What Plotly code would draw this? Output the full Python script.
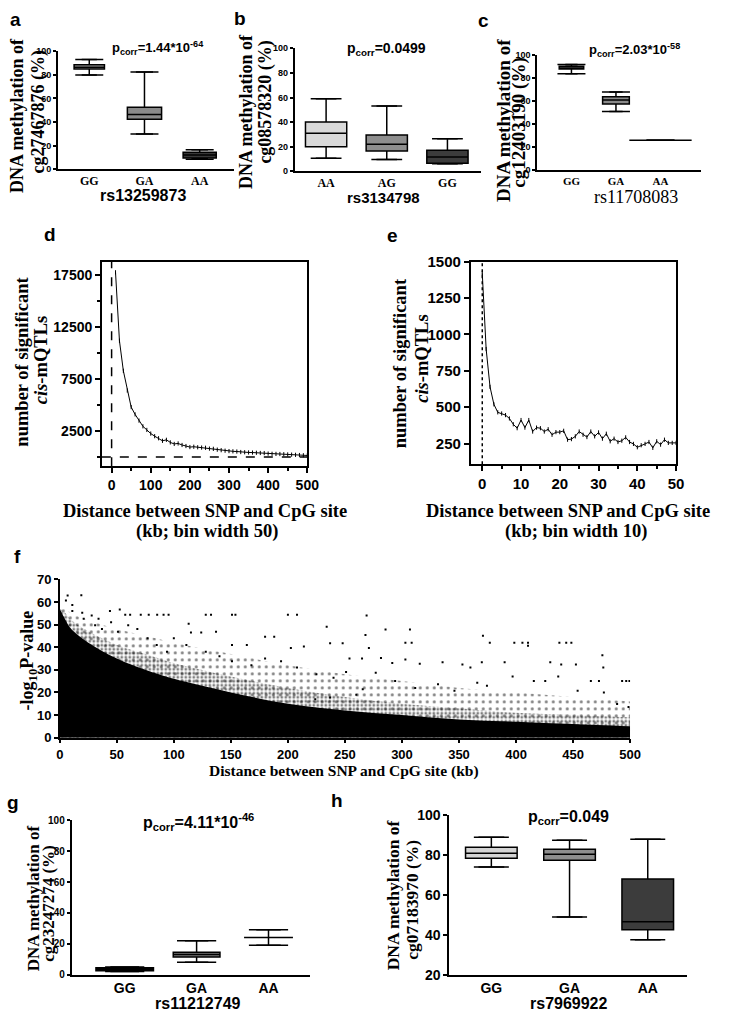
import plotly.graph_objects as go

W, H = 737, 1020
SANS = "Liberation Sans, Arial"
SERIF = "Liberation Serif, Times New Roman"

# ---------------- data ----------------
# a
A_CATS = ["GG", "GA", "AA"]
A_MIN = [80, 30, 8.5]
A_Q1 = [85, 42.5, 9.5]
A_MED = [86.5, 46.5, 12]
A_Q3 = [88.5, 52.5, 14.5]
A_MAX = [93, 82.5, 16.5]

# b
B_CATS = ["AA", "AG", "GG"]
B_MIN = [10.5, 9.5, 6]
B_Q1 = [20, 16.5, 6.5]
B_MED = [31, 22, 11.5]
B_Q3 = [40, 29.5, 17]
B_MAX = [59, 53, 26.5]

# c
C_CATS = ["GG", "GA", "AA"]
C_MIN = [84, 51, 26]
C_Q1 = [88, 57.5, 26]
C_MED = [89, 61, 26]
C_Q3 = [90.5, 64, 26]
C_MAX = [92, 68, 26]

# d  (number of significant cis-mQTLs, bin width 50)
D_X = [10, 20, 30, 40, 50, 60, 70, 80, 90, 100, 110, 120, 130, 140, 150, 160, 170,
       180, 190, 200, 210, 220, 230, 240, 250, 260, 270, 280, 290, 300, 310, 320,
       330, 340, 350, 360, 370, 380, 390, 400, 410, 420, 430, 440, 450, 460, 470,
       480, 490, 500]
D_Y = [17800, 11200, 8300, 6400, 4800, 4100, 3500, 2950, 2600, 2250, 2000, 1800,
       1550, 1650, 1400, 1250, 1300, 1150, 1050, 950, 980, 930, 900, 880, 800, 780,
       700, 650, 600, 560, 540, 520, 470, 450, 430, 420, 400, 380, 370, 320, 300,
       290, 280, 260, 240, 220, 200, 180, 160, 140]

# e  (bin width 10)
E_X = [0, 1, 2, 3, 4, 5, 6, 7, 8, 9, 10, 11, 12, 13, 14, 15, 16, 17, 18, 19, 20,
       21, 22, 23, 24, 25, 26, 27, 28, 29, 30, 31, 32, 33, 34, 35, 36, 37, 38, 39,
       40, 41, 42, 43, 44, 45, 46, 47, 48, 49, 50]
E_Y = [1420, 900, 640, 520, 465, 457, 446, 423, 383, 356, 412, 360, 412, 333, 360,
       356, 333, 349, 311, 329, 329, 338, 277, 281, 300, 333, 311, 295, 333, 300,
       327, 284, 318, 266, 284, 261, 270, 293, 261, 248, 225, 239, 248, 261, 221,
       266, 243, 277, 255, 255, 255]

# f  (dense cloud: envelopes of the point density + sparse outlying points)
F_X = [0, 5, 10, 25, 50, 75, 100, 150, 200, 250, 300, 350, 400, 450, 500]
F_CORE = [57, 52, 48, 42, 35, 30, 26, 20, 15, 12, 10, 8, 7, 6, 5]
F_DENSE = [57, 55, 52, 47, 41, 37, 33, 27, 22, 18, 15, 13, 11, 10, 9]
F_HALO = [58, 57, 55, 52, 48, 45, 42, 37, 32, 28, 25, 22, 20, 18, 16]
F_PX = [6.9, 18.9, 5.4, 11, 11, 19.7, 21, 28, 34, 44, 52.6, 57.4, 61.7, 71, 78,
        85.4, 91, 95.4, 113, 128, 132.6, 151, 154, 200, 208, 115, 124, 137, 151,
        164, 180, 188, 202.6, 214, 234, 237, 248, 254, 225, 240, 251, 208, 194,
        180, 168, 151, 140, 128, 111, 100, 94, 85, 77, 68, 60, 51, 45, 37, 31,
        224, 237, 260, 265, 269, 268, 285.6, 307, 303, 308.5, 281.6, 291.5, 271,
        303, 315.6, 335.6, 353, 360, 370, 390, 371, 377, 398.5, 405.6, 410.5,
        410.5, 430, 438, 444, 448.5, 439.6, 452.5, 475.7, 476.5, 493, 496.6,
        499.4, 465.6, 472.7, 437, 425.6, 415.6, 397, 374.5, 366, 346, 331.6,
        311.6, 294, 277, 265.6, 454, 477, 488.6, 498.6]
F_PY = [62.8, 63, 60.6, 58.7, 56, 55.2, 52.6, 54, 52.6, 56, 56.7, 54.3, 54.3,
        54.3, 54.3, 54.3, 54.3, 54.3, 50.4, 54.3, 54.3, 54.3, 54.3, 54.3, 54.3,
        46.5, 46.5, 46.8, 41, 41, 44.6, 44.6, 39.6, 40.3, 49, 41.7, 41.7, 35, 28,
        26.5, 29, 31, 33.8, 35, 32, 33.8, 36, 38, 41, 44, 38, 41, 44, 48, 49.7,
        46.8, 51, 48, 49.7, 17, 17.8, 19, 35, 54, 45.4, 47.8, 47.8, 42, 42, 35.2,
        33, 39.6, 34.5, 32.7, 33.3, 32.3, 31, 33.3, 33.3, 45, 42, 42, 42, 42,
        40.6, 33.3, 42, 42, 42, 32.3, 32.3, 36.4, 31, 25, 25, 25, 25, 25, 27, 25,
        25, 27, 22.9, 24.3, 20.7, 23.6, 22, 25, 28.7, 21.4, 20.7, 20, 14.9, 13.5]

# g
G_CATS = ["GG", "GA", "AA"]
G_MIN = [2, 8, 19]
G_Q1 = [2.5, 11.5, 24]
G_MED = [3.5, 13, 24]
G_Q3 = [4.5, 14.5, 24]
G_MAX = [5, 22, 29]

# h
H_CATS = ["GG", "GA", "AA"]
H_MIN = [74, 49, 37.5]
H_Q1 = [78.5, 77.5, 42.5]
H_MED = [81, 80.5, 46.5]
H_Q3 = [84, 83, 68]
H_MAX = [89, 87.5, 88]


def X(p):
    return p / W


def Y(p):
    return 1 - p / H


fig = go.Figure()


def add_boxes(n, mins, q1, q3, med, maxs, colors, widths, cap):
    xa, ya = f"x{n}", f"y{n}"
    for i in range(len(mins)):
        fig.add_trace(go.Box(
            x=[i], q1=[q1[i]], median=[med[i]], q3=[q3[i]],
            lowerfence=[mins[i]], upperfence=[maxs[i]],
            fillcolor=colors[i], line=dict(color="black", width=1.5),
            width=widths[i], xaxis=xa, yaxis=ya, hoverinfo="skip",
        ))
    xs, ys = [], []
    for i in range(len(mins)):
        xs += [i, i]
        ys += [mins[i], maxs[i]]
    fig.add_trace(go.Scatter(
        x=xs, y=ys, mode="markers", xaxis=xa, yaxis=ya, hoverinfo="skip",
        marker=dict(symbol="line-ew", size=cap, line=dict(color="black", width=1.5)),
    ))


add_boxes(1, A_MIN, A_Q1, A_Q3, A_MED, A_MAX, ["#a3a3a3", "#8a8a8a", "#383838"], [0.55, 0.62, 0.6], 20)
add_boxes(2, B_MIN, B_Q1, B_Q3, B_MED, B_MAX, ["#d9d9d9", "#8e8e8e", "#3c3c3c"], [0.68, 0.68, 0.68], 22)
add_boxes(3, C_MIN, C_Q1, C_Q3, C_MED, C_MAX, ["#9a9a9a", "#8a8a8a", "#383838"], [0.55, 0.6, 1.4], 20)
add_boxes(7, G_MIN, G_Q1, G_Q3, G_MED, G_MAX, ["#1e1e1e", "#7a7a7a", "#444444"], [0.8, 0.65, 0.68], 28)
add_boxes(8, H_MIN, H_Q1, H_Q3, H_MED, H_MAX, ["#d4d4d4", "#8e8e8e", "#3c3c3c"], [0.66, 0.66, 0.66], 25)

# d
fig.add_trace(go.Scatter(x=D_X, y=D_Y, mode="lines+markers", xaxis="x4", yaxis="y4",
                         line=dict(color="black", width=1),
                         marker=dict(symbol="line-ns", size=3, line=dict(color="black", width=1))))
# e
fig.add_trace(go.Scatter(x=E_X, y=E_Y, mode="lines+markers", xaxis="x5", yaxis="y5",
                         line=dict(color="black", width=1),
                         marker=dict(symbol="line-ns", size=3, line=dict(color="black", width=1))))

# f
fig.add_trace(go.Scatter(x=F_X, y=F_HALO, mode="lines", xaxis="x6", yaxis="y6", fill="tozeroy",
                         line=dict(width=0, shape="spline"), fillcolor="rgba(0,0,0,0)",
                         fillpattern=dict(shape=".", fgcolor="black", bgcolor="rgba(0,0,0,0)",
                                          size=7, solidity=0.15)))
fig.add_trace(go.Scatter(x=F_X, y=F_DENSE, mode="lines", xaxis="x6", yaxis="y6", fill="tozeroy",
                         line=dict(width=0, shape="spline"), fillcolor="rgba(0,0,0,0)",
                         fillpattern=dict(shape=".", fgcolor="black", bgcolor="rgba(0,0,0,0)",
                                          size=4, solidity=0.4)))
fig.add_trace(go.Scatter(x=F_X, y=F_CORE, mode="lines", xaxis="x6", yaxis="y6", fill="tozeroy",
                         line=dict(width=0, shape="spline"), fillcolor="black"))
fig.add_trace(go.Scatter(x=F_PX, y=F_PY, mode="markers", xaxis="x6", yaxis="y6",
                         marker=dict(symbol="square", size=2, color="black")))

# reference lines in d and e
fig.add_shape(type="line", xref="x4", yref="y4 domain", x0=0, x1=0, y0=0, y1=1,
              line=dict(color="black", width=1.5, dash="dash"))
fig.add_shape(type="line", xref="x4 domain", yref="y4", x0=0, x1=1, y0=0, y1=0,
              line=dict(color="black", width=1.5, dash="dash"))
fig.add_shape(type="line", xref="x5", yref="y5 domain", x0=0, x1=0, y0=0, y1=1,
              line=dict(color="black", width=1.5, dash="dot"))

base = dict(showline=True, linecolor="black", linewidth=1.5, showgrid=False, zeroline=False,
            ticks="outside", tickcolor="black", tickwidth=1.5, fixedrange=True)


def font(fam, size):
    return dict(family=fam, size=size, color="black", weight="bold")


def box_axes(n, x0, x1, y0, y1, xr, yr, cats, catfont, yvals, yfont, tl=4):
    sx = "" if n == 1 else str(n)
    fig.layout[f"xaxis{sx}"] = dict(base, domain=[X(x0), X(x1)], range=xr, anchor=f"y{n}",
                                   tickvals=[0, 1, 2], ticktext=cats, ticks="", ticklen=2,
                                   tickfont=catfont)
    fig.layout[f"yaxis{sx}"] = dict(base, domain=[Y(y1), Y(y0)], range=yr, anchor=f"x{n}",
                                   tickvals=yvals, ticklen=tl, tickfont=yfont)


pct = [0, 20, 40, 60, 80, 100]
box_axes(1, 55, 235, 43, 163, [-0.57, 2.62], [0, 100], A_CATS, font(SERIF, 12), pct, font(SANS, 9), 3)
box_axes(2, 297, 488, 40, 165, [-0.52, 2.56], [0, 100], B_CATS, font(SERIF, 12), pct, font(SANS, 9), 3)
box_axes(3, 545, 712, 47, 164, [-0.77, 2.9], [0, 100], C_CATS, font(SERIF, 11), pct, font(SANS, 9), 3)
box_axes(7, 69, 313, 825, 982, [-0.74, 2.58], [0, 100], G_CATS, font(SANS, 14), pct, font(SANS, 10), 3)
box_axes(8, 455, 698, 820, 982, [-0.54, 2.5], [20, 100], H_CATS, font(SANS, 14), [20, 40, 60, 80, 100],
         font(SANS, 14), 4)

minor_style = dict(ticklen=3, ticks="outside", tickcolor="black", tickwidth=1.5)
fig.layout["xaxis4"] = dict(base, domain=[X(100), X(310)], range=[-25, 500], anchor="y4",
                            mirror=True, tickvals=[0, 100, 200, 300, 400, 500], ticklen=5,
                            tickfont=font(SANS, 14), minor=dict(minor_style, dtick=50, tick0=0))
fig.layout["yaxis4"] = dict(base, domain=[Y(465), Y(257)], range=[-900, 18820], anchor="x4",
                            mirror=True, tickvals=[2500, 7500, 12500, 17500], tickformat="d",
                            ticklen=5, tickfont=font(SANS, 14),
                            minor=dict(minor_style, dtick=2500, tick0=0))
fig.layout["xaxis5"] = dict(base, domain=[X(477), X(687)], range=[-3, 50], anchor="y5",
                            mirror=True, tickvals=[0, 10, 20, 30, 40, 50], ticklen=5,
                            tickfont=font(SANS, 15), minor=dict(minor_style, dtick=5, tick0=0))
fig.layout["yaxis5"] = dict(base, domain=[Y(463), Y(257)], range=[108, 1500], anchor="x5",
                            mirror=True, tickvals=[250, 500, 750, 1000, 1250, 1500], ticklen=5,
                            tickformat="d", tickfont=font(SANS, 15))
fig.layout["xaxis6"] = dict(base, domain=[X(57), X(640)], range=[0, 500], anchor="y6",
                            tickvals=[0, 50, 100, 150, 200, 250, 300, 350, 400, 450, 500],
                            ticklen=4, tickfont=font(SANS, 13))
fig.layout["yaxis6"] = dict(base, domain=[Y(741), Y(580)], range=[0, 70], anchor="x6",
                            tickvals=[0, 10, 20, 30, 40, 50, 60, 70], ticklen=4,
                            tickfont=font(SANS, 13))


def ann(text, x, y, size, family=SERIF, angle=0, bold=True):
    fig.add_annotation(text=f"<b>{text}</b>" if bold else text, x=X(x), y=Y(y),
                       xref="paper", yref="paper", showarrow=False, textangle=angle,
                       xanchor="center", yanchor="middle",
                       font=dict(family=family, size=size, color="black"))


# panel letters
for lab, lx, ly in [("a", 12, 11), ("b", 241, 10), ("c", 490, 12), ("d", 47, 229), ("e", 397, 230),
                    ("f", 14, 557), ("g", 9, 807), ("h", 340, 805)]:
    ann(lab, lx, ly, 19, SANS)

# p-values
ann("p<sub>corr</sub>=1.44*10<sup>-64</sup>", 157, 40, 13, SANS)
ann("p<sub>corr</sub>=0.0499", 391, 41, 14, SANS)
ann("p<sub>corr</sub>=2.03*10<sup>-58</sup>", 645, 42, 13, SANS)
ann("p<sub>corr</sub>=4.11*10<sup>-46</sup>", 199, 827, 16, SANS)
ann("p<sub>corr</sub>=0.049", 577, 822, 16, SANS)

# y titles of box plots (two lines each)
ann("DNA methylation of", 14, 108, 18, angle=-90)
ann("cg27467876 (%)", 35, 105, 18, angle=-90)
ann("DNA methylation of", 248, 104, 18, angle=-90)
ann("cg08578320 (%)", 267, 95, 18, angle=-90)
ann("DNA methylation of", 510, 113, 19, angle=-90)
ann("cg12403190 (%)", 527, 116, 19, angle=-90)
ann("DNA methylation of", 31, 904, 17, angle=-90)
ann("cg23247274 (%)", 46, 910, 17, angle=-90)
ann("DNA methylation of", 398, 901, 17.5, angle=-90)
ann("cg07183970 (%)", 417, 906, 17.5, angle=-90)

# x titles of box plots
ann("rs13259873", 142, 190, 16, SANS)
ann("rs3134798", 388, 192, 15, SANS)
ann("rs11708083", 646, 191, 18, SERIF, bold=False)
ann("rs11212749", 198, 1011, 16, SANS)
ann("rs7969922", 578, 1011, 16, SANS)

# d / e titles
ann("number of significant", 18, 359, 18.5, angle=-90)
ann("<i>cis</i>-mQTLs", 38, 357, 18.5, angle=-90)
ann("number of significant", 405, 360, 18.5, angle=-90)
ann("<i>cis</i>-mQTLs", 427, 356, 18.5, angle=-90)
ann("Distance between SNP and CpG site", 205, 510, 18.5)
ann("(kb; bin width 50)", 207, 531, 18.5)
ann("Distance between SNP and CpG site", 577, 510, 18.5)
ann("(kb; bin width 10)", 585, 531, 18.5)

# f titles
ann("-log<sub>10</sub>P-value", 26, 662, 18, angle=-90)
ann("Distance between SNP and CpG site (kb)", 348, 775, 15.5)

fig.update_layout(width=W, height=H, margin=dict(l=0, r=0, t=0, b=0),
                  paper_bgcolor="white", plot_bgcolor="white", showlegend=False,
                  boxmode="overlay")

# the page body has a default 8px margin; remove it so the figure fills the window
fig.write_html("out.html", config={"displayModeBar": False},
               post_script="document.body.style.margin='0px';")
